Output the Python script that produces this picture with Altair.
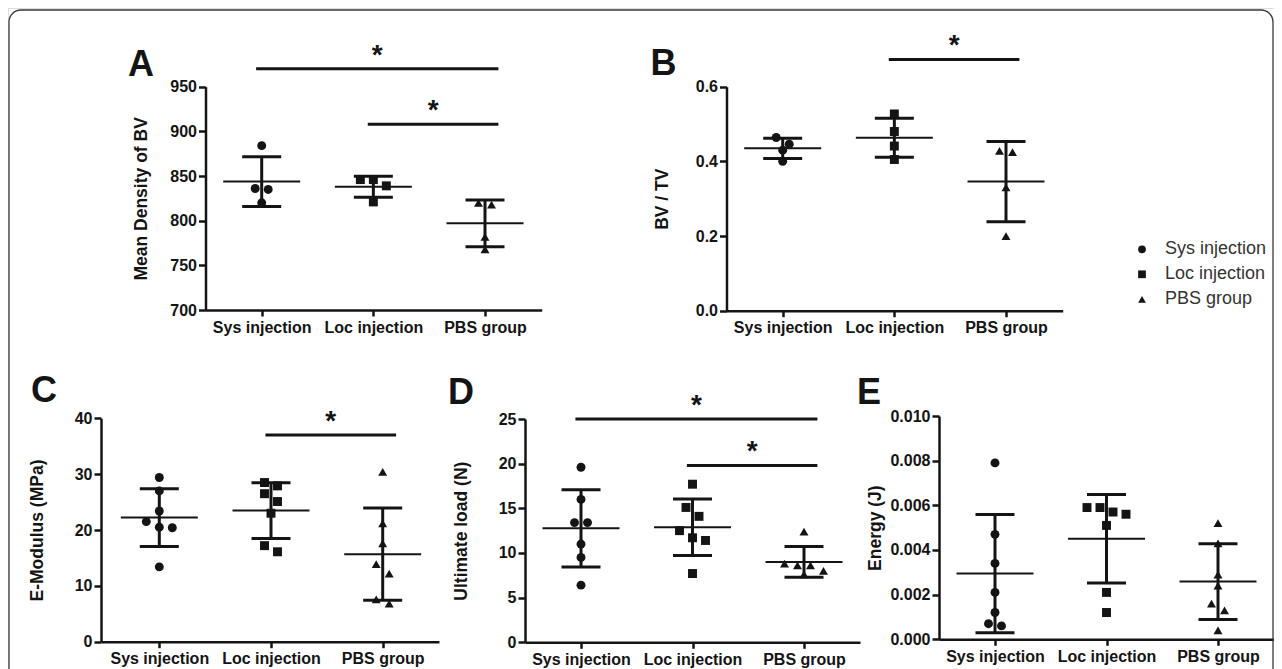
import altair as alt
import pandas as pd

# ---------------- data ----------------
groups = ["Sys injection", "Loc injection", "PBS group"]
shapes = ["circle", "square", "triangle-up"]

# A: Mean Density of BV
a_sys = [884, 836, 835, 820]
a_loc = [846, 846, 839, 821]
a_pbs = [820, 818, 782, 768]
# B: BV / TV
b_sys = [0.464, 0.446, 0.430, 0.400]
b_loc = [0.527, 0.480, 0.441, 0.405]
b_pbs = [0.428, 0.425, 0.330, 0.200]
# C: E-Modulus (MPa)
c_sys = [29.4, 27.0, 23.4, 21.5, 20.5, 20.4, 13.4]
c_loc = [28.5, 27.9, 26.5, 25.1, 23.0, 17.2, 16.1]
c_pbs = [30.4, 21.2, 17.6, 13.9, 12.2, 7.6, 6.8]
# D: Ultimate load (N)
d_sys = [19.6, 16.0, 13.4, 13.4, 11.0, 9.5, 6.4]
d_loc = [17.7, 15.1, 14.1, 12.5, 11.7, 11.4, 7.7]
d_pbs = [12.4, 8.8, 8.6, 8.6, 8.0, 7.6]
# E: Energy (J)
e_sys = [0.0079, 0.0047, 0.0034, 0.0021, 0.0012, 0.0007, 0.0006]
e_loc = [0.0059, 0.0059, 0.0057, 0.0056, 0.0051, 0.0021, 0.0012]
e_pbs = [0.0052, 0.0043, 0.0029, 0.0024, 0.0016, 0.0013, 0.0004]

# significance comparisons: (from group, to group, level)
a_sig = [(1, 3, 970), (2, 3, 908)]
b_sig = [(2, 3, 0.673)]
c_sig = [(2, 3, 37.0)]
d_sig = [(1, 3, 25.0), (2, 3, 19.8)]
e_sig = []

a_ticks = [700, 750, 800, 850, 900, 950]
b_ticks = [0.0, 0.2, 0.4, 0.6]
c_ticks = [0, 10, 20, 30, 40]
d_ticks = [0, 5, 10, 15, 20, 25]
e_ticks = [0.0, 0.002, 0.004, 0.006, 0.008, 0.010]

# ---------------- layout / style ----------------
W, H = 1266, 661
OFF = 8  # page margin
FONT = "Liberation Sans"
INK = "#141414"

panels = [
    dict(letter="A", title="Mean Density of BV", series=[a_sys, a_loc, a_pbs], sig=a_sig,
         ticks=a_ticks, fmt="d", ax=205.5, right=541.7, cat1=261.7, sp=111.65,
         ycal=((700, 310.0), (950, 86.7)), lpos=(141, 76)),
    dict(letter="B", title="BV / TV", series=[b_sys, b_loc, b_pbs], sig=b_sig,
         ticks=b_ticks, fmt=".1f", ax=726.5, right=1062.7, cat1=782.7, sp=111.65,
         ycal=((0.0, 310.7), (0.6, 86.7)), lpos=(663.5, 75)),
    dict(letter="C", title="E-Modulus (MPa)", series=[c_sys, c_loc, c_pbs], sig=c_sig,
         ticks=c_ticks, fmt="d", ax=101, right=439, cat1=159.3, sp=111.7,
         ycal=((0, 641.7), (40, 418.3)), lpos=(44, 402)),
    dict(letter="D", title="Ultimate load (N)", series=[d_sys, d_loc, d_pbs], sig=d_sig,
         ticks=d_ticks, fmt="d", ax=525, right=860, cat1=581, sp=111.5,
         ycal=((0, 642.3), (25, 419)), lpos=(461, 404)),
    dict(letter="E", title="Energy (J)", series=[e_sys, e_loc, e_pbs], sig=e_sig,
         ticks=e_ticks, fmt=".3f", ax=939, right=1274, cat1=995, sp=111.5,
         ycal=((0, 639.3), (0.010, 416)), lpos=(869, 404)),
]


def swarm(values, ppu, step=13.0, bin_px=10.0):
    """Simple Prism-like scatter spreading: points close in y share a row."""
    order = sorted(range(len(values)), key=lambda i: -values[i])
    offs = [0.0] * len(values)
    bins = []
    for i in order:
        if bins and (values[bins[-1][0]] - values[i]) * ppu < bin_px:
            bins[-1].append(i)
        else:
            bins.append([i])
    for b in bins:
        n = len(b)
        for k, i in enumerate(b):
            offs[i] = (k - (n - 1) / 2) * step
    return offs


label_expr = "[" + ",".join("'%s'" % g for g in groups) + "][datum.value - 1]"
shape_scale = alt.Scale(domain=groups, range=shapes)
legend = alt.Legend(title=None, orient="none", legendX=1140 - OFF - 7, legendY=249.3 - OFF - 9,
                    labelFontSize=18, labelFont=FONT, labelColor="#333333",
                    symbolSize=60, symbolFillColor=INK, symbolStrokeColor=INK,
                    symbolStrokeWidth=0, rowPadding=7, labelOffset=14)
one = pd.DataFrame({"k": [0]})


def make_panel(cfg):
    ax, right, cat1, sp = cfg["ax"] - OFF, cfg["right"] - OFF, cfg["cat1"] - OFF, cfg["sp"]
    (v0, p0), (v1, p1) = cfg["ycal"]
    p0 -= OFF
    p1 -= OFF
    ppu = (p0 - p1) / (v1 - v0)

    rows = []
    for gi, (g, vals) in enumerate(zip(groups, cfg["series"])):
        offs = swarm(vals, ppu)
        for v, o in zip(vals, offs):
            rows.append({"group": g, "idx": gi + 1, "value": v, "xj": gi + 1 + o / sp})
    df = pd.DataFrame(rows)

    xs = alt.Scale(domain=[1 - (cat1 - ax) / sp, 1 + (right - cat1) / sp],
                   range=[ax, right], nice=False, zero=False)
    ys = alt.Scale(domain=[v0, v1], range=[p0, p1], nice=False, zero=False)

    xaxis = alt.Axis(values=[1, 2, 3], labelExpr=label_expr, title=None, orient="bottom",
                     offset=p0 - H, grid=False, domainWidth=2.5, domainColor=INK,
                     tickWidth=2.5, tickColor=INK, tickSize=6, labelPadding=3,
                     labelFontSize=16, labelFontWeight="bold", labelFont=FONT,
                     labelColor=INK, labelOverlap=False, labelFlush=False, zindex=0)
    yaxis = alt.Axis(values=cfg["ticks"], format=cfg["fmt"], title=cfg["title"], orient="left",
                     offset=-ax, grid=False, domainWidth=2.5, domainColor=INK,
                     tickWidth=2.5, tickColor=INK, tickSize=7, labelPadding=2,
                     labelFontSize=16, labelFontWeight="bold", labelFont=FONT,
                     labelColor=INK, labelOverlap=False, labelFlush=False,
                     titleFont=FONT, titleFontSize=17.5, titleFontWeight="bold",
                     titleColor=INK, titleX=-64, titleBaseline="middle", zindex=0)

    def X(f):
        return alt.X(f, scale=xs, axis=xaxis)

    def Y(f):
        return alt.Y(f, scale=ys, axis=yaxis)

    points = alt.Chart(df).mark_point(filled=True, size=80, color=INK, opacity=1,
                                      strokeWidth=0).encode(
        x=X("xj:Q"), y=Y("value:Q"),
        shape=alt.Shape("group:N", scale=shape_scale, legend=legend),
    )

    base = alt.Chart(df).transform_aggregate(
        mean="mean(value)", sd="stdev(value)", groupby=["idx"]
    ).transform_calculate(lo="datum.mean - datum.sd", hi="datum.mean + datum.sd")

    whisker = base.mark_rule(strokeWidth=3, color=INK).encode(
        x=X("idx:Q"), y=Y("lo:Q"), y2="hi:Q")
    cap_hi = base.mark_tick(orient="horizontal", size=39, thickness=3, color=INK, opacity=1).encode(
        x=X("idx:Q"), y=Y("hi:Q"))
    cap_lo = base.mark_tick(orient="horizontal", size=39, thickness=3, color=INK, opacity=1).encode(
        x=X("idx:Q"), y=Y("lo:Q"))
    mean_line = base.mark_tick(orient="horizontal", size=77, thickness=2, color=INK, opacity=1).encode(
        x=X("idx:Q"), y=Y("mean:Q"))

    letter = alt.Chart(one).mark_text(text=cfg["letter"], font=FONT, fontSize=36,
                                      fontWeight="bold", align="center",
                                      baseline="alphabetic", color=INK).encode(
        x=alt.value(cfg["lpos"][0] - OFF), y=alt.value(cfg["lpos"][1] - OFF))

    layers = [points, whisker, cap_hi, cap_lo, mean_line, letter]

    if cfg["sig"]:
        sdf = pd.DataFrame([{"x1": a - 0.05, "x2": b + 0.12, "mid": (a - 0.05 + b + 0.12) / 2,
                             "lvl": lvl} for a, b, lvl in cfg["sig"]])
        bars = alt.Chart(sdf).mark_rule(strokeWidth=3, color=INK).encode(
            x=X("x1:Q"), x2="x2:Q", y=Y("lvl:Q"))
        stars = alt.Chart(sdf).mark_text(text="*", font=FONT, fontSize=28, fontWeight="bold",
                                         baseline="alphabetic", align="center", dy=-5,
                                         color=INK).encode(
            x=X("mid:Q"), y=Y("lvl:Q"))
        layers += [bars, stars]

    return alt.layer(*layers)


border = alt.Chart(one).mark_rect(filled=False, color="#3a3a3a",
                                  strokeWidth=1.3, cornerRadius=12).encode(
    x=alt.value(1), x2=alt.value(1265), y=alt.value(2), y2=alt.value(760))

chart = alt.layer(border, *[make_panel(p) for p in panels]).resolve_scale(
    x="independent", y="independent", shape="shared"
).resolve_axis(x="independent", y="independent").properties(
    width=W, height=H, autosize=alt.AutoSizeParams(type="none"), padding=0
).configure_view(stroke=None).configure(background="white")

chart.save("out.html", embed_options={"renderer": "svg", "actions": False})
